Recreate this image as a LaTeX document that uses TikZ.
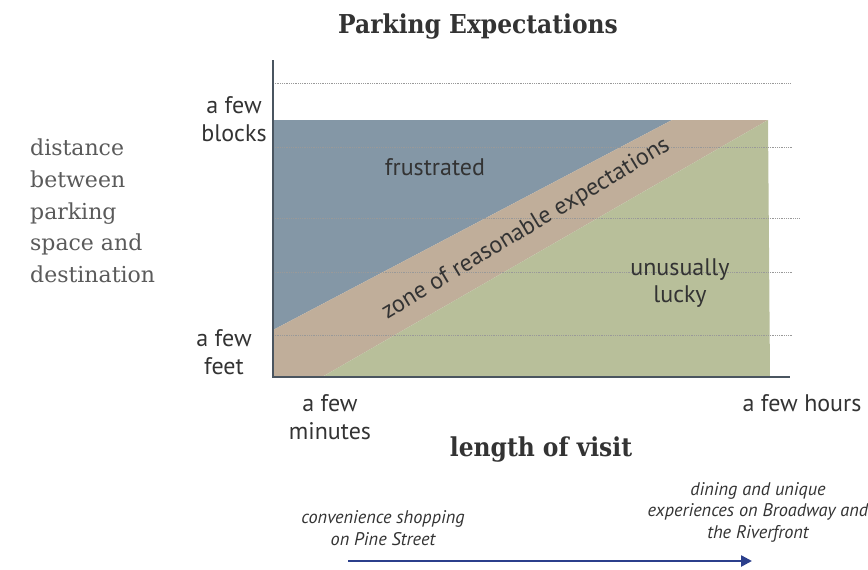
\documentclass[tikz,border=0pt]{standalone}
\usepackage{fontspec}
\setmainfont{DejaVu Serif}
\setsansfont{PT Sans}
\newfontfamily\titlefont{DejaVu Serif Condensed}
\usetikzlibrary{arrows.meta}
\definecolor{bluereg}{HTML}{8497A6}
\definecolor{tanreg}{HTML}{C0AE9A}
\definecolor{greenreg}{HTML}{B8BF9A}
\definecolor{axiscol}{HTML}{4A5560}
\definecolor{txt}{HTML}{333333}
\definecolor{ylab}{HTML}{5A5A5A}
\definecolor{arrowblue}{HTML}{2B3F8C}
\tikzset{
  grid line/.style={draw=gray!80, line width=0.8pt, dash pattern=on 0.9pt off 0.9pt},
  axis line/.style={draw=axiscol, line width=2pt},
  lab/.style={font=\sffamily\fontsize{24}{27.5}\selectfont, text=txt, inner sep=0pt},
  ital/.style={font=\sffamily\itshape\fontsize{18.3}{21.5}\selectfont, text=txt, inner sep=0pt, align=center},
  heading/.style={font=\titlefont\bfseries\fontsize{26}{30}\selectfont, text=txt, inner sep=0pt},
}
\begin{document}
\begin{tikzpicture}[x=1pt,y=-1pt]
\useasboundingbox (0,0) rectangle (868,570);
% regions
\fill[bluereg] (273,120) -- (672,120) -- (273,330) -- cycle;
\fill[tanreg] (273,330) -- (672,120) -- (768,120) -- (322,377) -- (273,377) -- cycle;
\fill[greenreg] (322,377) -- (768,120) -- (770,377) -- cycle;
% grid lines
\foreach \yy/\xe in {83/790,147/792,218/800,272/792,335/792}
  \draw[grid line] (273,\yy) -- (\xe,\yy);
% axes
\coordinate (org) at (273,377);
\coordinate (ytop) at (273,60);
\coordinate (xend) at (790,377);
\draw[axis line] (ytop) -- (org) -- (xend);
% title
\node[heading] (title) at (478,27) {Parking Expectations};
\node[heading] (xlab) at (541,450) {length of visit};
% y label
\node[font=\fontsize{22}{31.7}\selectfont, text=ylab, align=left, anchor=west, inner sep=0pt] (ylab) at (30,211) {distance\\between\\parking\\space and\\destination};
% tick labels
\node[lab, align=center] (blocks) at (234,119) {a few\\blocks};
\node[lab, align=center] (feet) at (224,352) {a few\\feet};
\node[lab, align=center] (minutes) at (330,417) {a few\\minutes};
\node[lab] (hours) at (802,403) {a few hours};
% region labels
\node[lab] (frus) at (435,167) {frustrated};
\node[lab, align=center] (lucky) at (680,283) {unusually\\lucky};
\node[lab, rotate=31] (zone) at (526,229) {zone of reasonable expectations};
% bottom
\node[ital] (conv) at (383,528) {convenience shopping\\on Pine Street};
\node[ital] (dine) at (758,512) {dining and unique\\experiences on Broadway and\\the Riverfront};
\coordinate (as) at (348,561);
\coordinate (ae) at (752,561);
\draw[arrowblue, line width=2.5pt, -{Triangle[length=11pt,width=11pt]}] (as) -- (ae);
\end{tikzpicture}
\end{document}
